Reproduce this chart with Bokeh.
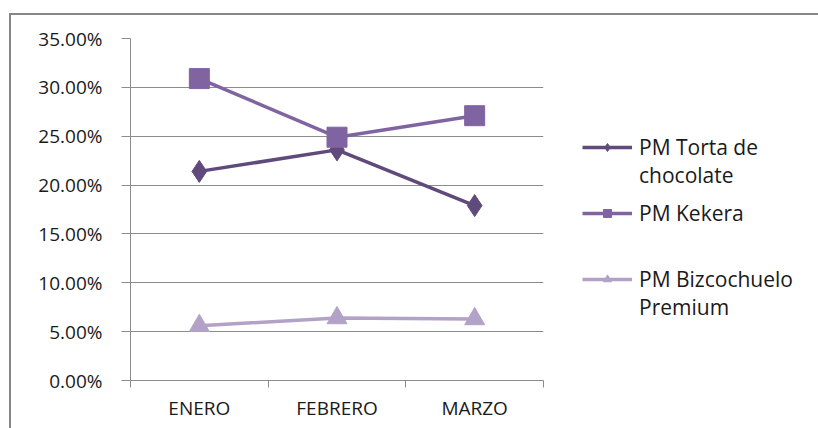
from bokeh.plotting import figure
from bokeh.models import FixedTicker, Legend, LegendItem
from bokeh.embed import file_html
from bokeh.resources import INLINE

# Monthly share per product (percent)
months = ["ENERO", "FEBRERO", "MARZO"]
torta = [21.4, 23.6, 17.9]
kekera = [30.9, 24.9, 27.1]
bizcochuelo = [5.6, 6.4, 6.3]
y_ticks = [0, 5, 10, 15, 20, 25, 30, 35]

FONT = "Open Sans"
TEXT = "#1a1a1a"
GRID = "#8c8c8c"

# category centres on a numeric axis so ticks can sit on the boundaries
xs = [i + 0.5 for i in range(len(months))]

p = figure(frame_width=413, frame_height=342, output_backend="svg",
           toolbar_location=None, x_range=(0, len(months)), y_range=(0, 35),
           min_border_left=119, min_border_top=23, min_border_bottom=48,
           min_border_right=275, outline_line_color=None,
           background_fill_color="white", border_fill_color="white")
p.margin = (13, 0, 0, 9)
p.styles = {"border-top": "2px solid #868686", "border-left": "2px solid #868686"}

# x axis: labels at centres, tick marks at category boundaries
p.xaxis.ticker = FixedTicker(ticks=xs, minor_ticks=list(range(len(months) + 1)))
p.xaxis.major_label_overrides = {x: m for x, m in zip(xs, months)}
p.xaxis.major_tick_out = 0
p.xaxis.major_tick_in = 0
p.xaxis.minor_tick_out = 7
p.xaxis.minor_tick_in = 0
p.xaxis.minor_tick_line_color = GRID
p.xaxis.axis_line_color = GRID
p.xaxis.major_label_standoff = 7

# y axis in percent with two decimals
p.yaxis.ticker = FixedTicker(ticks=y_ticks, minor_ticks=[])
p.yaxis.major_label_overrides = {t: f"{t:.2f}%" for t in y_ticks}
p.yaxis.major_tick_out = 9
p.yaxis.major_tick_in = 0
p.yaxis.major_tick_line_color = GRID
p.yaxis.axis_line_color = GRID
p.yaxis.major_label_standoff = 19

for ax in (p.xaxis, p.yaxis):
    ax.major_label_text_font = FONT
    ax.major_label_text_font_size = "19px"
    ax.major_label_text_color = TEXT

p.xgrid.grid_line_color = None
p.ygrid.ticker = FixedTicker(ticks=y_ticks[1:])
p.ygrid.grid_line_color = GRID
p.ygrid.grid_line_width = 1

# leading blank line keeps the legend glyph level with the first text line
series = [
    ("\nPM Torta de\nchocolate", torta, "#604a7b", "diamond", 22),
    ("PM Kekera", kekera, "#8064a2", "square", 20),
    ("\nPM Bizcochuelo\nPremium", bizcochuelo, "#b3a2c7", "triangle", 20),
]

items = []
for label, vals, color, marker, size in series:
    ln = p.line(xs, vals, line_color=color, line_width=3.5)
    sc = p.scatter(xs, vals, marker=marker, size=size, fill_color=color,
                   line_color=color)
    items.append(LegendItem(label=label, renderers=[ln, sc]))

legend = Legend(items=items, location=(39, 59), border_line_color=None,
                background_fill_alpha=0, glyph_width=50, glyph_height=20,
                label_height=20, label_standoff=7, spacing=10, margin=0,
                padding=0, label_text_font=FONT, label_text_font_size="21px",
                label_text_line_height=1.2, label_text_color=TEXT)
p.add_layout(legend, "right")

open("out.html", "w").write(file_html(p, INLINE))
